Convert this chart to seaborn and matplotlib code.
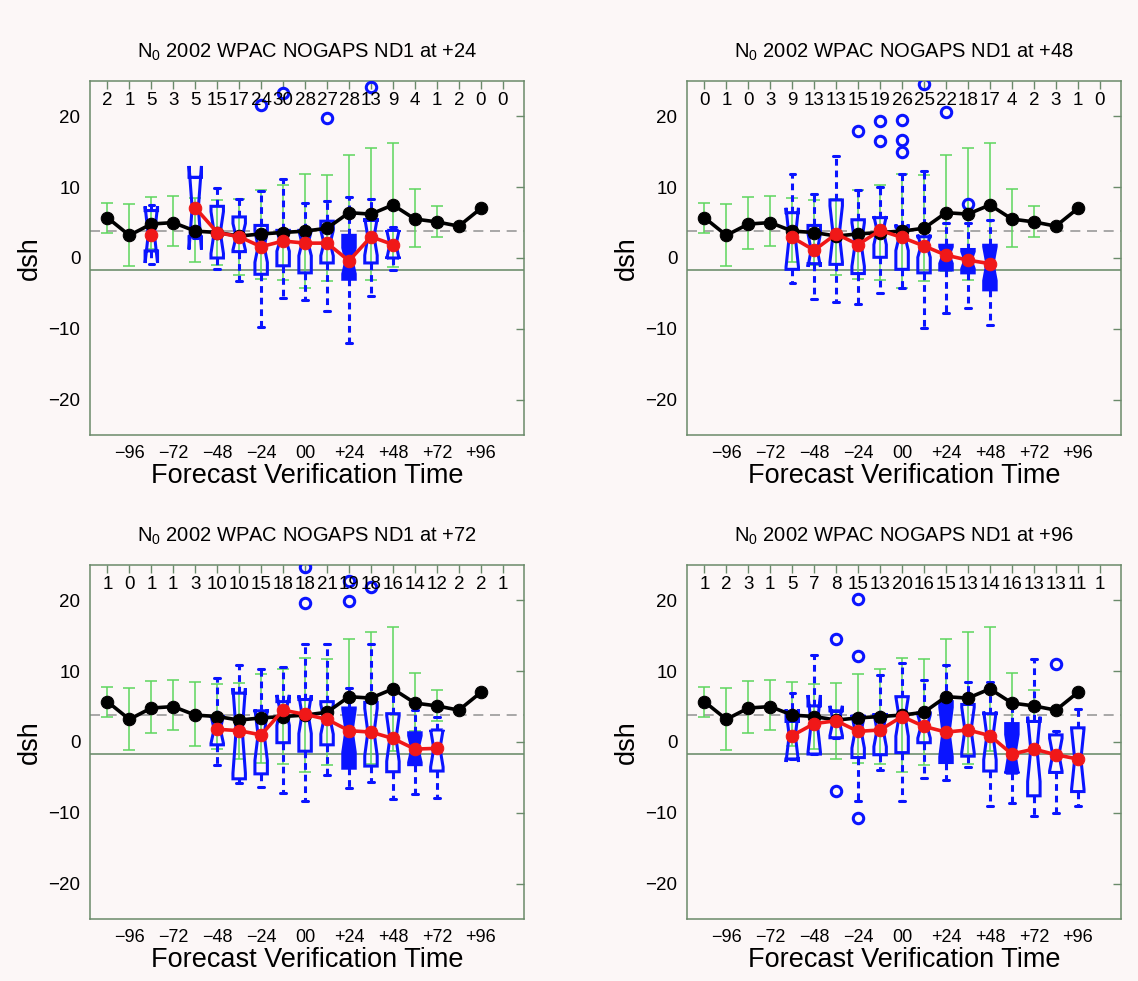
import numpy as np
import pandas as pd
import matplotlib
matplotlib.use("Agg")
import matplotlib.pyplot as plt
import seaborn as sns

nan = np.nan

# ---------------- data ----------------
HOURS = [-108, -96, -84, -72, -60, -48, -36, -24, -12, 0, 12, 24, 36, 48, 60, 72, 84, 96, 108]
TICK_LABELS = ["", "\u221296", "", "\u221272", "", "\u221248", "", "\u221224", "", "00",
               "", "+24", "", "+48", "", "+72", "", "+96", ""]

# climatology (black line, -108..+96) and its spread bars (green, -108..+72)
CLIM_MEAN = [5.7, 3.2, 4.8, 5.0, 3.8, 3.6, 3.1, 3.4, 3.6, 3.8, 4.2, 6.4, 6.2, 7.5, 5.5, 5.1, 4.5, 7.0]
CLIM_HI = [7.7, 7.6, 8.6, 8.8, 8.5, 8.2, 8.3, 9.6, 10.3, 11.8, 11.7, 14.6, 15.5, 16.3, 9.7, 7.3]
CLIM_LO = [3.5, -1.2, 1.3, 1.7, -0.6, -1.0, -2.4, -2.9, -3.1, -4.3, -3.3, -1.8, -3.1, -1.3, 1.5, 3.0]
DASHED_LEVEL = 3.85
SOLID_LEVEL = -1.7

PANEL_TAGS = ["+24", "+48", "+72", "+96"]

# panel +24
N_24 = [2, 1, 5, 3, 5, 15, 17, 24, 30, 28, 27, 28, 13, 9, 4, 1, 2, 0, 0]
MED_24 = [nan, nan, 3.3, nan, 7.1, 3.6, 3.0, 1.6, 2.4, 2.1, 2.1, -0.4, 3.0, 1.9, nan, nan, nan, nan, nan]
Q1_24 = [nan, nan, 1.0, nan, 3.0, 0.0, 0.9, -2.3, -1.1, -2.1, -0.7, -3.0, -0.7, 0.0, nan, nan, nan, nan, nan]
Q3_24 = [nan, nan, 6.7, nan, 11.4, 7.3, 5.8, 4.6, 3.9, 3.9, 5.2, 3.2, 5.3, 3.9, nan, nan, nan, nan, nan]
WLO_24 = [nan, nan, -0.8, nan, 2.8, -1.5, -3.2, -9.8, -5.7, -5.9, -7.5, -12.0, -5.4, -1.7, nan, nan, nan, nan, nan]
WHI_24 = [nan, nan, 7.5, nan, 11.4, 9.9, 8.3, 9.4, 11.1, 7.8, 8.1, 8.6, 8.3, 4.4, nan, nan, nan, nan, nan]
FLIER_H_24 = [-24, -12, 12, 36]
FLIER_V_24 = [21.6, 23.3, 19.8, 24.1]
FILLED_24 = [24]

# panel +48
N_48 = [0, 1, 0, 3, 9, 13, 13, 15, 19, 26, 25, 22, 18, 17, 4, 2, 3, 1, 0]
MED_48 = [nan, nan, nan, nan, 2.9, 1.1, 3.4, 1.9, 3.9, 2.9, 1.7, 0.4, -0.3, -0.8, nan, nan, nan, nan, nan]
Q1_48 = [nan, nan, nan, nan, -1.6, -0.8, -0.9, -2.2, 0.1, -1.6, -2.1, -1.7, -2.1, -4.5, nan, nan, nan, nan, nan]
Q3_48 = [nan, nan, nan, nan, 6.4, 4.6, 8.2, 5.4, 5.7, 4.4, 3.0, 1.8, 1.2, 1.8, nan, nan, nan, nan, nan]
WLO_48 = [nan, nan, nan, nan, -3.5, -5.8, -6.2, -6.5, -5.0, -4.3, -9.9, -7.8, -7.1, -9.5, nan, nan, nan, nan, nan]
WHI_48 = [nan, nan, nan, nan, 11.9, 9.1, 14.4, 9.6, 10.0, 11.8, 12.3, 4.9, 4.9, 5.4, nan, nan, nan, nan, nan]
FLIER_H_48 = [-24, -12, -12, 0, 0, 0, 12, 24, 36]
FLIER_V_48 = [18.0, 19.4, 16.5, 19.5, 16.6, 15.0, 24.6, 20.6, 7.6]
FILLED_48 = [24, 36, 48]

# panel +72
N_72 = [1, 0, 1, 1, 3, 10, 10, 15, 18, 18, 21, 19, 18, 16, 14, 12, 2, 2, 1]
MED_72 = [nan, nan, nan, nan, nan, 1.8, 1.6, 1.0, 4.5, 3.9, 3.2, 1.6, 1.4, 0.5, -1.0, -0.9, nan, nan, nan]
Q1_72 = [nan, nan, nan, nan, nan, -0.4, -5.2, -4.5, -0.1, -1.3, -0.4, -3.7, -3.4, -4.2, -3.2, -4.1, nan, nan, nan]
Q3_72 = [nan, nan, nan, nan, nan, 3.6, 6.9, 4.4, 5.7, 6.0, 5.7, 4.8, 5.6, 4.0, 1.3, 1.7, nan, nan, nan]
WLO_72 = [nan, nan, nan, nan, nan, -3.2, -5.8, -6.4, -7.2, -8.3, -4.7, -6.5, -5.7, -8.1, -7.4, -7.9, nan, nan, nan]
WHI_72 = [nan, nan, nan, nan, nan, 9.0, 10.9, 10.3, 10.6, 13.9, 13.9, 7.6, 13.9, 8.0, 4.5, 3.6, nan, nan, nan]
FLIER_H_72 = [0, 0, 24, 24, 36]
FLIER_V_72 = [19.6, 24.7, 19.9, 22.8, 21.9]
FILLED_72 = [24, 60]

# panel +96
N_96 = [1, 2, 3, 1, 5, 7, 8, 15, 13, 20, 16, 15, 13, 14, 16, 13, 13, 11, 1]
MED_96 = [nan, nan, nan, nan, 0.9, 2.6, 3.0, 1.5, 1.7, 3.6, 2.2, 1.4, 1.7, 0.9, -1.7, -1.0, -1.8, -2.4, nan]
Q1_96 = [nan, nan, nan, nan, -2.4, -1.7, 0.6, -2.2, -1.8, -1.5, -0.1, -2.9, -2.0, -4.1, -4.4, -7.6, -4.3, -7.0, nan]
Q3_96 = [nan, nan, nan, nan, 2.9, 5.1, 4.4, 3.6, 3.6, 6.4, 4.1, 5.7, 5.3, 4.0, 2.6, 2.9, 1.0, 2.0, nan]
WLO_96 = [nan, nan, nan, nan, -2.4, -1.7, 0.6, -8.3, -3.9, -8.4, -5.1, -5.3, -3.6, -9.1, -8.6, -10.5, -10.0, -9.0, nan]
WHI_96 = [nan, nan, nan, nan, 6.9, 12.3, 4.4, 4.0, 9.5, 11.1, 8.8, 10.9, 8.5, 8.5, 5.0, 11.7, 1.6, 4.7, nan]
FLIER_H_96 = [-36, -36, -24, -24, -24, 84]
FLIER_V_96 = [14.6, -6.9, 20.2, 12.1, -10.7, 11.0]
FILLED_96 = [24, 60]

PANELS = [
    (N_24, MED_24, Q1_24, Q3_24, WLO_24, WHI_24, FLIER_H_24, FLIER_V_24, FILLED_24),
    (N_48, MED_48, Q1_48, Q3_48, WLO_48, WHI_48, FLIER_H_48, FLIER_V_48, FILLED_48),
    (N_72, MED_72, Q1_72, Q3_72, WLO_72, WHI_72, FLIER_H_72, FLIER_V_72, FILLED_72),
    (N_96, MED_96, Q1_96, Q3_96, WLO_96, WHI_96, FLIER_H_96, FLIER_V_96, FILLED_96),
]

# ---------------- style ----------------
sns.set_style("white")
plt.rcParams["font.family"] = ["Liberation Sans", "DejaVu Sans"]
plt.rcParams["mathtext.default"] = "regular"
plt.rcParams["text.color"] = "black"
plt.rcParams["axes.labelcolor"] = "black"

BG = "#fcf7f7"
BLUE = "#0a14ff"
GREEN = "#5ed65e"
RED = "#f01818"
SPINE = "#6a8a6a"

W, H = 1138, 981
fig = plt.figure(figsize=(W / 100, H / 100), dpi=100, facecolor=BG)

axes_px = [(90, 81), (687, 81), (90, 565), (687, 565)]
AX_W, AX_H = 434, 354


def draw_panel(ax, tag, n, med, q1, q3, wlo, whi, fh, fv, filled):
    ax.set_facecolor(BG)
    ax.axhline(DASHED_LEVEL, color="#9a9a9a", lw=1.2, ls=(0, (6, 4)), zorder=1)
    ax.axhline(SOLID_LEVEL, color="#6f8f6f", lw=1.2, zorder=1)

    # green spread bars
    lo = np.array(CLIM_LO)
    hi = np.array(CLIM_HI)
    xs = HOURS[:len(lo)]
    ax.errorbar(xs, (lo + hi) / 2, yerr=(hi - lo) / 2, fmt="none", ecolor=GREEN,
                elinewidth=1.1, capsize=4, capthick=1.1, zorder=2)

    # box stats
    stats, pos, fills = [], [], []
    for i, h in enumerate(HOURS):
        if np.isnan(med[i]):
            continue
        fl = [v for hh, v in zip(fh, fv) if hh == h]
        iqr = q3[i] - q1[i]
        half = 1.57 * iqr / np.sqrt(n[i])
        stats.append(dict(med=med[i], q1=q1[i], q3=q3[i], whislo=wlo[i], whishi=whi[i],
                          fliers=fl, cilo=med[i] - half, cihi=med[i] + half))
        pos.append(h)
        fills.append(h in filled)
    bp = ax.bxp(stats, positions=pos, widths=6.8, shownotches=True, patch_artist=True,
                manage_ticks=False, capwidths=3.0,
                boxprops=dict(edgecolor=BLUE, linewidth=2.2),
                whiskerprops=dict(color=BLUE, linewidth=2.2, linestyle=(0, (2.2, 1.6))),
                capprops=dict(color=BLUE, linewidth=2.2),
                medianprops=dict(color=BLUE, linewidth=1.5),
                flierprops=dict(marker="o", markerfacecolor="none", markeredgecolor=BLUE,
                                markersize=7.5, markeredgewidth=2.2))
    for patch, f in zip(bp["boxes"], fills):
        patch.set_facecolor(BLUE if f else "none")
        patch.set_zorder(3)
    for k in ("whiskers", "caps", "medians", "fliers"):
        for a in bp[k]:
            a.set_zorder(3)

    # black climatology line
    dfc = pd.DataFrame({"h": HOURS[:len(CLIM_MEAN)], "v": CLIM_MEAN})
    sns.lineplot(data=dfc, x="h", y="v", ax=ax, color="black", lw=2.6, marker="o",
                 markersize=9, markeredgecolor="black", zorder=4, legend=False)

    # red median line (broken where there is no box)
    dfr = pd.DataFrame({"h": HOURS, "v": med})
    dfr["seg"] = dfr["v"].isna().cumsum()
    dfr = dfr.dropna()
    sns.lineplot(data=dfr, x="h", y="v", units="seg", estimator=None, ax=ax, color=RED,
                 lw=2.6, marker="o", markersize=9, markeredgecolor=RED, zorder=5, legend=False)

    # counts
    for h, c in zip(HOURS, n):
        ax.text(h, 22.3, str(c), ha="center", va="center", fontsize=13.5, zorder=6)

    ax.set_xlim(-117.5, 119.6)
    ax.set_ylim(-25, 25)
    ax.set_xticks(HOURS)
    ax.set_xticklabels(TICK_LABELS, fontsize=13)
    ax.set_yticks([-20, -10, 0, 10, 20])
    ax.tick_params(axis="y", labelsize=13.5)
    ax.tick_params(direction="in", length=6, width=1, top=True, right=True, pad=7,
                   color=SPINE, labelcolor="black")
    for s in ax.spines.values():
        s.set_color(SPINE)
        s.set_linewidth(1.1)
    ax.set_xlabel("Forecast Verification Time", fontsize=19.5, labelpad=1)
    ax.set_ylabel("dsh", fontsize=19.5, labelpad=4)
    ax.set_title("N$_0$ 2002 WPAC NOGAPS ND1 at " + tag, fontsize=14.5, pad=17)


for (x0, y0), tag, pdata in zip(axes_px, PANEL_TAGS, PANELS):
    ax = fig.add_axes([x0 / W, 1 - (y0 + AX_H) / H, AX_W / W, AX_H / H])
    draw_panel(ax, tag, *pdata)

fig.savefig("out.png", dpi=100, facecolor=BG)
